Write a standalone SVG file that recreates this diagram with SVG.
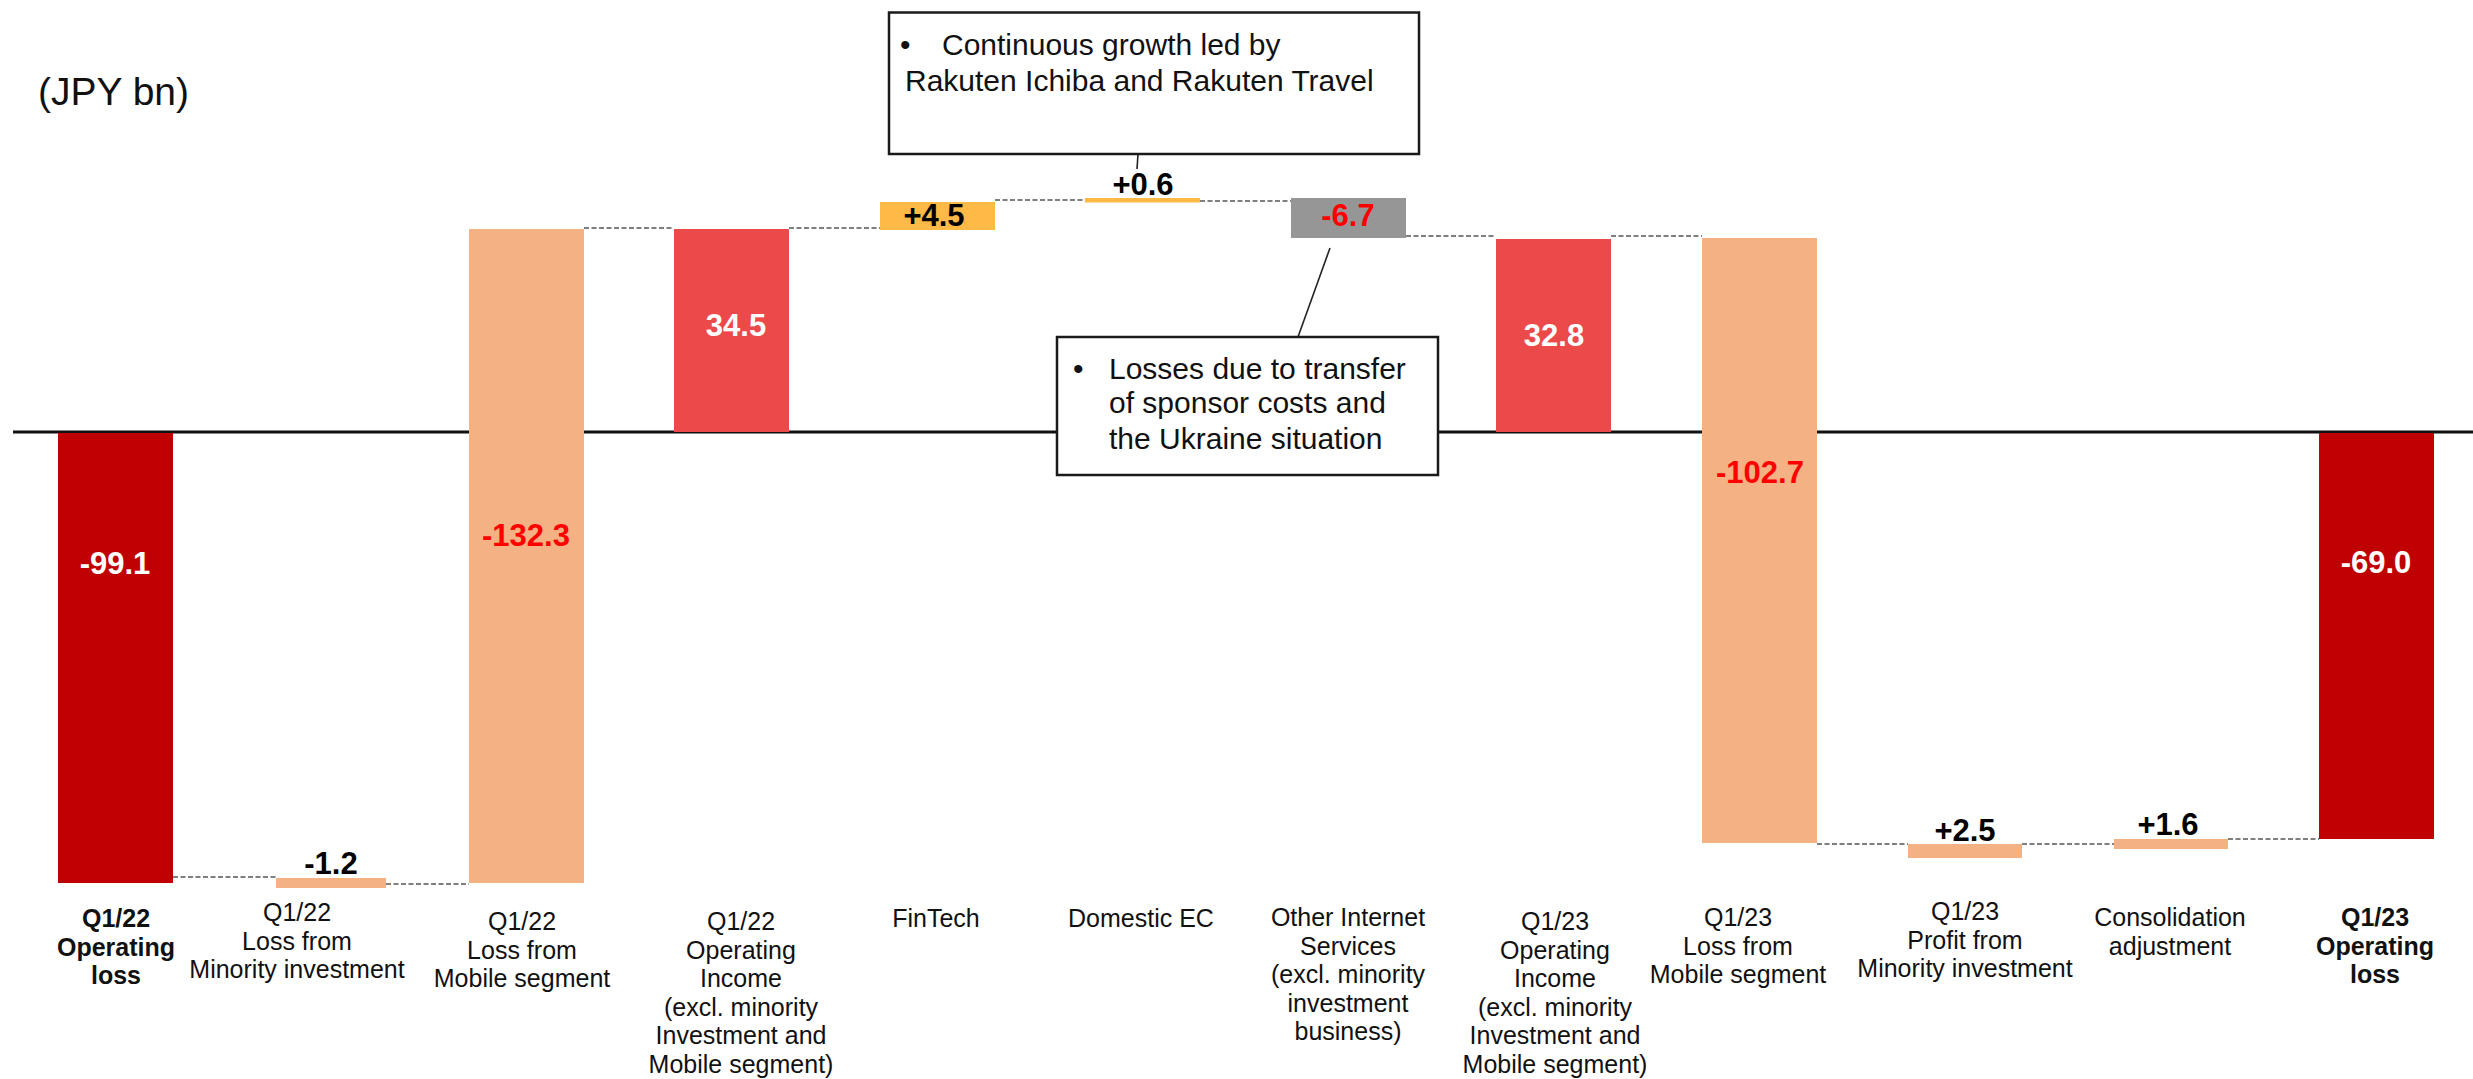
<svg xmlns="http://www.w3.org/2000/svg" width="2473" height="1079" viewBox="0 0 2473 1079">
  <style>
    .axis { stroke: #111; stroke-width: 3; }
    .dash { stroke: #555; stroke-width: 1.6; stroke-dasharray: 5 2.5; fill: none; }
    .lead { stroke: #222; stroke-width: 1.6; fill: none; }
    .total { fill: #C00000; }
    .peach { fill: #F4B183; }
    .sub { fill: #EC4A4A; }
    .gain { fill: #FFB946; }
    .grey { fill: #969696; }
    .val { font-family: "Liberation Sans", Arial, sans-serif; font-weight: bold; font-size: 31px; text-anchor: middle; }
    .w { fill: #fff; }
    .k { fill: #000; }
    .r { fill: #FF0000; }
    .cat { font-family: "Liberation Sans", Arial, sans-serif; font-size: 25px; fill: #111; text-anchor: middle; }
    .b { font-weight: bold; }
    .box { fill: #fff; stroke: #1a1a1a; stroke-width: 2.5; }
    .note { font-family: "Liberation Sans", Arial, sans-serif; font-size: 30px; fill: #111; }
    .unit { font-family: "Liberation Sans", Arial, sans-serif; font-size: 39px; fill: #111; }
  </style>

  <rect width="2473" height="1079" fill="#fff"/>

  <text class="unit" x="38" y="105">(JPY bn)</text>

  <!-- zero line -->
  <line class="axis" x1="13" y1="432" x2="2473" y2="432"/>

  <!-- step connectors and callout leaders -->
  <g id="connectors">
    <line class="dash" x1="173" y1="877" x2="276" y2="877"/>
    <line class="dash" x1="386" y1="884" x2="469" y2="884"/>
    <line class="dash" x1="584" y1="228" x2="674" y2="228"/>
    <line class="dash" x1="789" y1="228" x2="880" y2="228"/>
    <line class="dash" x1="995" y1="200" x2="1085" y2="200"/>
    <line class="dash" x1="1200" y1="201" x2="1291" y2="201"/>
    <line class="dash" x1="1406" y1="236" x2="1496" y2="236"/>
    <line class="dash" x1="1611" y1="236" x2="1702" y2="236"/>
    <line class="dash" x1="1817" y1="844" x2="1908" y2="844"/>
    <line class="dash" x1="2022" y1="844" x2="2114" y2="844"/>
    <line class="dash" x1="2228" y1="839" x2="2319" y2="839"/>
    <line class="lead" x1="1138" y1="154" x2="1137" y2="169"/>
    <line class="lead" x1="1330" y1="248" x2="1298" y2="337"/>
  </g>

  <g id="q122-operating-loss">
    <rect class="total" x="58" y="433" width="115" height="450"/>
    <text class="val w" x="115" y="574">-99.1</text>
    <text class="cat b" x="116" y="927">Q1/22</text>
    <text class="cat b" x="116" y="955.5">Operating</text>
    <text class="cat b" x="116" y="984">loss</text>
  </g>

  <g id="q122-minority">
    <rect class="peach" x="276" y="878" width="110" height="10"/>
    <text class="val k" x="331" y="874">-1.2</text>
    <text class="cat" x="297" y="921">Q1/22</text>
    <text class="cat" x="297" y="949.5">Loss from</text>
    <text class="cat" x="297" y="978">Minority investment</text>
  </g>

  <g id="q122-mobile">
    <rect class="peach" x="469" y="229" width="115" height="654"/>
    <text class="val r" x="526" y="546">-132.3</text>
    <text class="cat" x="522" y="930">Q1/22</text>
    <text class="cat" x="522" y="958.5">Loss from</text>
    <text class="cat" x="522" y="987">Mobile segment</text>
  </g>

  <g id="q122-operating-income">
    <rect class="sub" x="674" y="229" width="115" height="203"/>
    <text class="val w" x="736" y="336">34.5</text>
    <text class="cat" x="741" y="930">Q1/22</text>
    <text class="cat" x="741" y="958.6">Operating</text>
    <text class="cat" x="741" y="987.2">Income</text>
    <text class="cat" x="741" y="1015.8">(excl. minority</text>
    <text class="cat" x="741" y="1044.4">Investment and</text>
    <text class="cat" x="741" y="1073">Mobile segment)</text>
  </g>

  <g id="fintech">
    <rect class="gain" x="880" y="202" width="115" height="28"/>
    <text class="val k" x="934" y="226">+4.5</text>
    <text class="cat" x="936" y="927">FinTech</text>
  </g>

  <g id="domestic-ec">
    <rect class="gain" x="1085" y="198" width="115" height="4.5"/>
    <text class="val k" x="1143" y="195">+0.6</text>
    <text class="cat" x="1141" y="927">Domestic EC</text>
  </g>

  <g id="other-internet-services">
    <rect class="grey" x="1291" y="198" width="115" height="40"/>
    <text class="val r" x="1348" y="226">-6.7</text>
    <text class="cat" x="1348" y="926">Other Internet</text>
    <text class="cat" x="1348" y="954.6">Services</text>
    <text class="cat" x="1348" y="983.2">(excl. minority</text>
    <text class="cat" x="1348" y="1011.8">investment</text>
    <text class="cat" x="1348" y="1040.4">business)</text>
  </g>

  <g id="q123-operating-income">
    <rect class="sub" x="1496" y="239" width="115" height="193"/>
    <text class="val w" x="1554" y="346">32.8</text>
    <text class="cat" x="1555" y="930">Q1/23</text>
    <text class="cat" x="1555" y="958.6">Operating</text>
    <text class="cat" x="1555" y="987.2">Income</text>
    <text class="cat" x="1555" y="1015.8">(excl. minority</text>
    <text class="cat" x="1555" y="1044.4">Investment and</text>
    <text class="cat" x="1555" y="1073">Mobile segment)</text>
  </g>

  <g id="q123-mobile">
    <rect class="peach" x="1702" y="238" width="115" height="605"/>
    <text class="val r" x="1760" y="483">-102.7</text>
    <text class="cat" x="1738" y="926">Q1/23</text>
    <text class="cat" x="1738" y="954.5">Loss from</text>
    <text class="cat" x="1738" y="983">Mobile segment</text>
  </g>

  <g id="q123-minority">
    <rect class="peach" x="1908" y="844" width="114" height="14"/>
    <text class="val k" x="1965" y="841">+2.5</text>
    <text class="cat" x="1965" y="920">Q1/23</text>
    <text class="cat" x="1965" y="948.5">Profit from</text>
    <text class="cat" x="1965" y="977">Minority investment</text>
  </g>

  <g id="consolidation-adjustment">
    <rect class="peach" x="2114" y="839" width="114" height="10"/>
    <text class="val k" x="2168" y="835">+1.6</text>
    <text class="cat" x="2170" y="926">Consolidation</text>
    <text class="cat" x="2170" y="954.5">adjustment</text>
  </g>

  <g id="q123-operating-loss">
    <rect class="total" x="2319" y="433" width="115" height="406"/>
    <text class="val w" x="2376" y="573">-69.0</text>
    <text class="cat b" x="2375" y="926">Q1/23</text>
    <text class="cat b" x="2375" y="954.5">Operating</text>
    <text class="cat b" x="2375" y="983">loss</text>
  </g>

  <g id="note-domestic-ec">
    <rect class="box" x="889" y="12.5" width="530" height="141.5"/>
    <text class="note" x="900" y="55">•</text>
    <text class="note" x="942" y="55">Continuous growth led by</text>
    <text class="note" x="905" y="91">Rakuten Ichiba and Rakuten Travel</text>
  </g>

  <g id="note-other-internet">
    <rect class="box" x="1057" y="337" width="381" height="138"/>
    <text class="note" x="1073" y="379">•</text>
    <text class="note" x="1109" y="379">Losses due to transfer</text>
    <text class="note" x="1109" y="413">of sponsor costs and</text>
    <text class="note" x="1109" y="449">the Ukraine situation</text>
  </g>
</svg>
